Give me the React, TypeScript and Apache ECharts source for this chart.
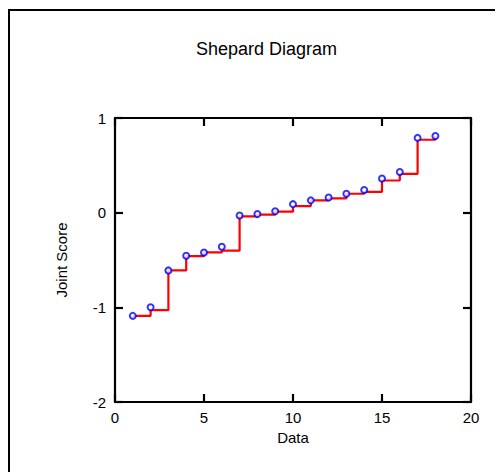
import React, { useEffect, useRef } from "react";
import * as echarts from "echarts";

const dataX = [1, 2, 3, 4, 5, 6, 7, 8, 9, 10, 11, 12, 13, 14, 15, 16, 17, 18];
const observed = [-1.09, -1.0, -0.61, -0.455, -0.42, -0.36, -0.03, -0.015, 0.015, 0.09, 0.13, 0.16, 0.2, 0.24, 0.36, 0.43, 0.79, 0.81];
const fitted = [-1.09, -1.03, -0.61, -0.46, -0.42, -0.4, -0.04, -0.02, 0.01, 0.07, 0.13, 0.15, 0.2, 0.22, 0.34, 0.41, 0.77, 0.81];
const xTicks = { min: 0, max: 20, interval: 5 };
const yTicks = { min: -2, max: 1, interval: 1 };

const FONT = "Liberation Sans, Arial, sans-serif";

export default function App() {
  const ref = useRef<HTMLDivElement>(null);
  useEffect(() => {
    document.body.style.overflow = "hidden";
    const chart = echarts.init(ref.current!, null, { renderer: "svg" });
    const axisLine = { show: true, onZero: false, lineStyle: { color: "#000", width: 2.2 } };
    const axisTick = { show: true, inside: true, length: 8, lineStyle: { color: "#000", width: 2.2 } };
    chart.setOption({
      animation: false,
      backgroundColor: "#fff",
      title: {
        text: "Shepard Diagram",
        left: 183,
        top: 27,
        textStyle: { fontFamily: FONT, fontSize: 18, fontWeight: "normal", color: "#000" },
      },
      graphic: [
        {
          type: "rect",
          shape: { x: 1, y: 2, width: 488, height: 700 },
          style: { fill: "none", stroke: "#000", lineWidth: 2 },
          silent: true,
        },
      ],
      grid: { left: 107, top: 110, width: 356, height: 284 },
      xAxis: [
        {
          type: "value",
          ...xTicks,
          position: "bottom",
          name: "Data",
          nameLocation: "middle",
          nameGap: 27,
          nameTextStyle: { fontFamily: FONT, fontSize: 15, color: "#000" },
          axisLine,
          axisTick,
          splitLine: { show: false },
          axisLabel: { fontFamily: FONT, fontSize: 15, color: "#000", margin: 8 },
        },
        {
          type: "value",
          ...xTicks,
          position: "top",
          axisLine,
          axisTick,
          splitLine: { show: false },
          axisLabel: { show: false },
        },
      ],
      yAxis: [
        {
          type: "value",
          ...yTicks,
          position: "left",
          name: "Joint Score",
          nameLocation: "middle",
          nameGap: 46,
          nameTextStyle: { fontFamily: FONT, fontSize: 15, color: "#000" },
          axisLine,
          axisTick,
          splitLine: { show: false },
          axisLabel: { fontFamily: FONT, fontSize: 15, color: "#000", margin: 9 },
        },
        {
          type: "value",
          ...yTicks,
          position: "right",
          axisLine,
          axisTick,
          splitLine: { show: false },
          axisLabel: { show: false },
        },
      ],
      series: [
        {
          type: "line",
          step: "end",
          data: dataX.map((x, i) => [x, fitted[i]]),
          showSymbol: false,
          lineStyle: { color: "#ff0000", width: 2.2 },
          z: 2,
        },
        {
          type: "scatter",
          data: dataX.map((x, i) => [x, observed[i]]),
          symbol: "circle",
          symbolSize: 6,
          itemStyle: { color: "#fff", borderColor: "#0000ff", borderWidth: 2 },
          z: 3,
        },
      ],
    });
    return () => chart.dispose();
  }, []);
  return <div ref={ref} style={{ width: 495, height: 464 }} />;
}
